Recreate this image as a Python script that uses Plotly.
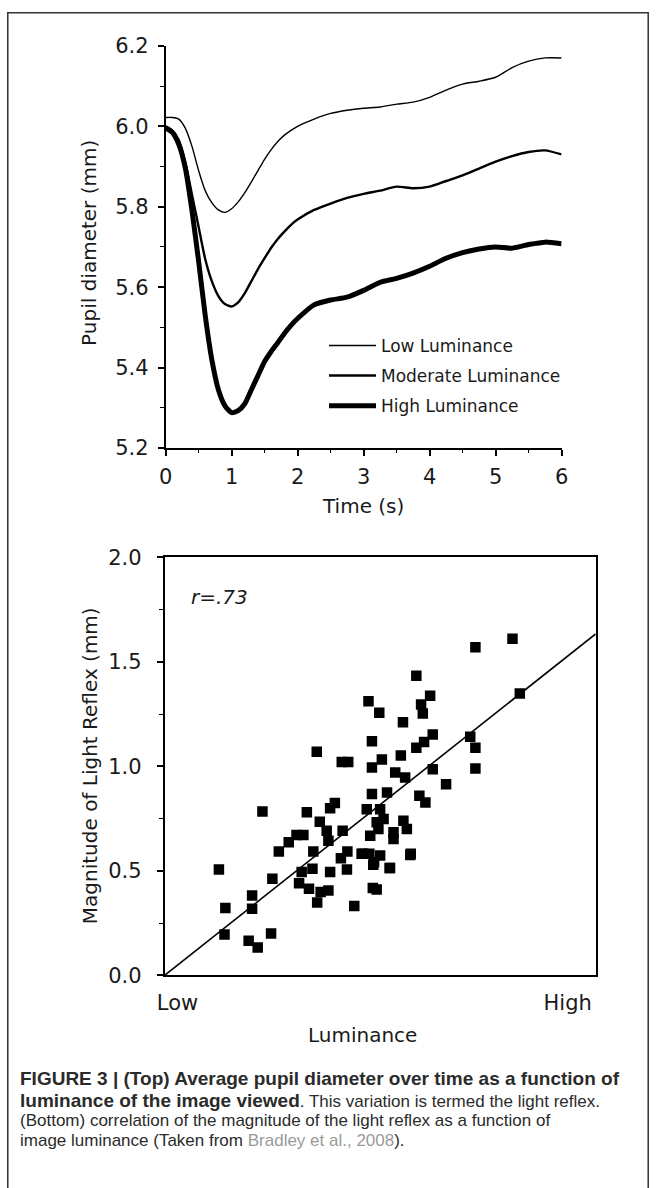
import numpy as np
import plotly.graph_objects as go

W, H = 656, 1188
# The page is rendered with an 8 px body margin and the screenshot is fitted
# back to 656x1188; positions below are given in reference pixels and mapped.
SX, SY, OFF = 656 / 672, 1188 / 1204, 8

# ---------------- Top panel data: pupil diameter over time ----------------
time_s = [0, 0.1, 0.2, 0.3, 0.4, 0.5, 0.6, 0.7, 0.8, 0.9, 1.0, 1.1, 1.2, 1.3, 1.4,
          1.5, 1.6, 1.7, 1.8, 1.9, 2.0, 2.25, 2.5, 2.75, 3.0, 3.25, 3.5, 3.75,
          4.0, 4.25, 4.5, 4.75, 5.0, 5.25, 5.5, 5.75, 6.0]
low_lum = [6.022, 6.022, 6.018, 5.995, 5.95, 5.89, 5.84, 5.81, 5.792, 5.786, 5.795,
           5.812, 5.835, 5.862, 5.89, 5.918, 5.942, 5.962, 5.978, 5.99, 6.0, 6.018,
           6.032, 6.04, 6.045, 6.048, 6.055, 6.06, 6.072, 6.09, 6.105, 6.112, 6.122,
           6.146, 6.162, 6.17, 6.17]
moderate_lum = [6.0, 5.99, 5.965, 5.91, 5.83, 5.75, 5.67, 5.615, 5.578, 5.558, 5.552,
                5.562, 5.585, 5.615, 5.645, 5.672, 5.698, 5.72, 5.738, 5.755, 5.768,
                5.792, 5.808, 5.822, 5.832, 5.84, 5.85, 5.846, 5.85, 5.864, 5.878,
                5.895, 5.912, 5.926, 5.936, 5.94, 5.93]
high_lum = [5.995, 5.985, 5.955, 5.895, 5.79, 5.665, 5.53, 5.42, 5.345, 5.305, 5.288,
            5.293, 5.31, 5.345, 5.38, 5.415, 5.44, 5.462, 5.485, 5.505, 5.522, 5.556,
            5.568, 5.575, 5.592, 5.612, 5.622, 5.635, 5.652, 5.672, 5.686, 5.695,
            5.70, 5.697, 5.706, 5.712, 5.708]
series_names = ["Low Luminance", "Moderate Luminance", "High Luminance"]
top_yticks = [5.2, 5.4, 5.6, 5.8, 6.0, 6.2]
top_xticks = [0, 1, 2, 3, 4, 5, 6]

# ---------------- Bottom panel data: light reflex vs luminance ----------------
luminance = [0.126, 0.141, 0.139, 0.227, 0.203, 0.203, 0.195, 0.216, 0.247, 0.250,
             0.265, 0.288, 0.306, 0.322, 0.330, 0.312, 0.318, 0.335, 0.345, 0.343,
             0.360, 0.362, 0.354, 0.380, 0.384, 0.376, 0.380, 0.384, 0.395, 0.413,
             0.409, 0.424, 0.423, 0.440, 0.481, 0.516, 0.469, 0.500, 0.477, 0.492,
             0.508, 0.475, 0.486, 0.500, 0.523, 0.483, 0.492, 0.531, 0.531, 0.461,
             0.473, 0.498, 0.553, 0.353, 0.411, 0.426, 0.481, 0.481, 0.504, 0.548,
             0.535, 0.558, 0.554, 0.721, 0.807, 0.584, 0.616, 0.595, 0.599, 0.622,
             0.602, 0.584, 0.622, 0.653, 0.721, 0.709, 0.721, 0.824, 0.591, 0.605,
             0.562, 0.571, 0.496, 0.457, 0.484, 0.570, 0.522]
reflex_mm = [0.506, 0.322, 0.195, 0.784, 0.382, 0.319, 0.165, 0.133, 0.200, 0.462,
             0.592, 0.637, 0.671, 0.671, 0.780, 0.440, 0.494, 0.414, 0.592, 0.510,
             0.735, 0.399, 0.348, 0.406, 0.494, 0.692, 0.644, 0.799, 0.824, 0.692,
             0.560, 0.592, 0.506, 0.332, 0.867, 0.875, 0.795, 0.795, 0.668, 0.732,
             0.748, 0.581, 0.541, 0.573, 0.513, 0.418, 0.411, 0.684, 0.652, 0.581,
             1.311, 1.256, 1.211, 1.070, 1.020, 1.020, 1.120, 0.994, 1.033, 1.052,
             0.970, 0.946, 0.740, 1.570, 1.610, 1.433, 1.338, 1.295, 1.252, 1.152,
             1.116, 1.089, 0.986, 0.914, 1.089, 1.141, 0.989, 1.348, 0.859, 0.827,
             0.700, 0.581, 0.700, 0.581, 0.529, 0.576, 0.513]
fit_slope = 1.633
fit_intercept = 0.0
lum_range = [0.0, 1.0]
bottom_yticks = [0.0, 0.5, 1.0, 1.5, 2.0]
lum_ticks = [0.03, 0.935]
lum_ticktext = ["Low", "High"]
r_text = "r=.73"

FONT = "DejaVu Sans, Verdana, sans-serif"
INK = "#1a1a1a"

fig = go.Figure()

widths = [1.4, 2.4, 5.0]
for name, vals, w in zip(series_names, [low_lum, moderate_lum, high_lum], widths):
    fig.add_trace(go.Scatter(x=time_s, y=vals, mode="lines", name=name,
                             line=dict(color="black", width=w, shape="spline", smoothing=0.6),
                             legendgroup=name, xaxis="x", yaxis="y"))

fig.add_trace(go.Scatter(x=luminance, y=reflex_mm, mode="markers", showlegend=False,
                         marker=dict(symbol="square", size=10.5, color="black"),
                         xaxis="x2", yaxis="y2"))

fit_x = np.array(lum_range)
fit_y = fit_slope * fit_x + fit_intercept
fig.add_trace(go.Scatter(x=fit_x, y=fit_y, mode="lines", showlegend=False,
                         line=dict(color="black", width=1.6), xaxis="x2", yaxis="y2"))


def px_x(p):
    return (p / SX - OFF) / W


def px_y(p):
    return 1 - (p / SY - OFF) / H


tickfont = dict(family=FONT, size=21, color=INK)

fig.update_layout(
    width=W, height=H,
    margin=dict(l=0, r=0, t=0, b=0),
    paper_bgcolor="white", plot_bgcolor="white",
    font=dict(family=FONT, color=INK),
    showlegend=True,
    legend=dict(x=px_x(324), y=px_y(326), xanchor="left", yanchor="top",
                font=dict(family=FONT, size=17, color=INK),
                bgcolor="rgba(0,0,0,0)", tracegroupgap=5, itemwidth=47),
    xaxis=dict(domain=[px_x(166), px_x(561)], range=[0, 6], tickvals=top_xticks,
               showline=True, linecolor="black", linewidth=1.6, ticks="outside",
               ticklen=6, tickwidth=1.5, tickcolor="black", showgrid=False, zeroline=False,
               tickfont=tickfont, ticklabelstandoff=3,
               minor=dict(dtick=0.5, ticks="outside", ticklen=3, tickcolor="black", tickwidth=1.2),
               anchor="y"),
    yaxis=dict(domain=[px_y(447), px_y(42)], range=[5.2, 6.2], tickvals=top_yticks,
               tickformat=".1f", showline=True, linecolor="black", linewidth=1.6,
               ticks="outside", ticklen=6, tickwidth=1.5, tickcolor="black", showgrid=False,
               zeroline=False, tickfont=tickfont, ticklabelstandoff=5,
               minor=dict(dtick=0.1, ticks="outside", ticklen=4, tickcolor="black", tickwidth=1.2),
               anchor="x"),
    xaxis2=dict(domain=[px_x(165), px_x(595)], range=lum_range, tickvals=lum_ticks,
                ticktext=lum_ticktext, showline=True, mirror=True, linecolor="black",
                linewidth=1.6, ticks="", showgrid=False, zeroline=False,
                tickfont=tickfont, ticklabelstandoff=8, anchor="y2"),
    yaxis2=dict(domain=[px_y(978), px_y(557)], range=[0, 2], tickvals=bottom_yticks,
                tickformat=".1f", showline=True, mirror=True, linecolor="black",
                linewidth=1.6, ticks="outside", ticklen=6, tickwidth=1.5, tickcolor="black",
                showgrid=False, zeroline=False, tickfont=tickfont, ticklabelstandoff=11,
                minor=dict(dtick=0.25, ticks="outside", ticklen=4, tickcolor="black", tickwidth=1.2),
                anchor="x2"),
)

title_font = dict(family=FONT, size=20, color=INK)
annos = [
    dict(text="Pupil diameter (mm)", x=px_x(90), y=px_y(240), textangle=-90, font=title_font),
    dict(text="Time (s)", x=px_x(363), y=px_y(505), font=title_font),
    dict(text="Magnitude of Light Reflex (mm)", x=px_x(90), y=px_y(767), textangle=-90, font=title_font),
    dict(text="Luminance", x=px_x(362), y=px_y(1038), font=title_font),
    dict(text="<i>" + r_text + "</i>", x=px_x(220), y=px_y(597),
         font=dict(family=FONT, size=20, color=INK)),
]
for a in annos:
    fig.add_annotation(xref="paper", yref="paper", showarrow=False,
                       xanchor="center", yanchor="middle", **a)

CAP = "Liberation Sans, Arial, sans-serif"
cap_lines = [
    "<b><span style='font-size:19px'>FIGURE 3 | (Top) Average pupil diameter over time as a function of</span></b>",
    "<b><span style='font-size:19px'>luminance of the image viewed</span></b>. This variation is termed the light reflex.",
    "(Bottom) correlation of the magnitude of the light reflex as a function of",
    "image luminance (Taken from <span style='color:#9a9a9a'>Bradley et al., 2008</span>).",
]
cap_y = [1082, 1104, 1124, 1144]
for line, yy in zip(cap_lines, cap_y):
    fig.add_annotation(xref="paper", yref="paper", showarrow=False, text=line,
                       x=px_x(19), y=px_y(yy), xanchor="left", yanchor="middle",
                       font=dict(family=CAP, size=17, color="#2b2b2b"))

fig.add_shape(type="rect", xref="paper", yref="paper",
              x0=0.8 / W, x1=1 - 0.8 / W, y0=-0.05, y1=1 - 0.8 / H,
              line=dict(color="#333333", width=1.5), fillcolor="rgba(0,0,0,0)")

fig.write_html("out.html")
